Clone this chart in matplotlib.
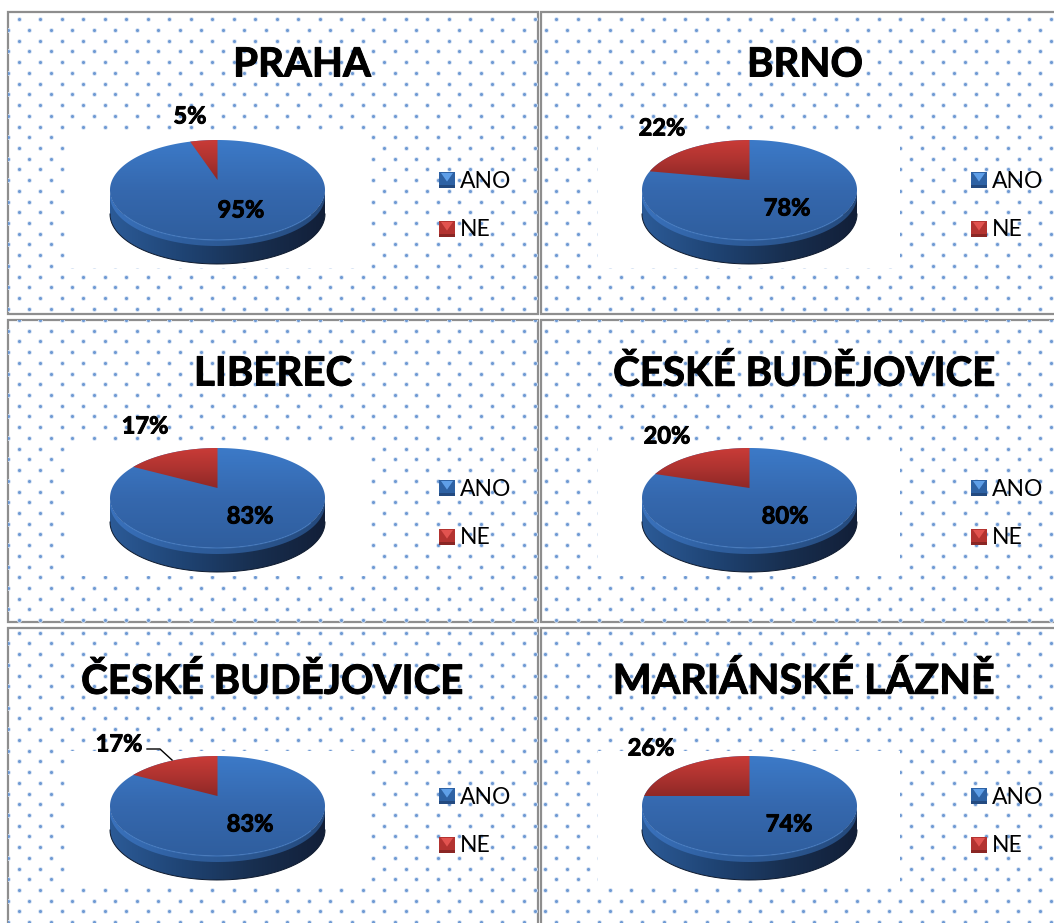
import numpy as np
import matplotlib
matplotlib.use('Agg')
import matplotlib.pyplot as plt
import matplotlib.patheffects as pe
from matplotlib.patches import Polygon, Rectangle

plt.rcParams['font.family'] = ['Lato', 'DejaVu Sans']

# Data
titles = ['PRAHA', 'BRNO', 'LIBEREC', 'ČESKÉ BUDĚJOVICE', 'ČESKÉ BUDĚJOVICE', 'MARIÁNSKÉ LÁZNĚ']
categories = ['ANO', 'NE']
ano_values = [95, 78, 83, 80, 83, 74]
ne_values = [5, 22, 17, 20, 17, 26]

# Layout, in pixels
W, H = 1054, 923
col_left = [8, 541]
col_right = [538, 1060]
row_top = [12, 320, 628]
row_bottom = [314, 622, 930]
panel_dot_x = [18.7, 556.3, 18.7, 556.3, 18.7, 545.3]
row_dot_y = [19.3, 320, 632.7]
title_pos = [(302, 65), (805, 65), (273, 374), (804, 374), (272, 682), (804, 682)]
title_sizes = [29, 29, 29, 29, 29, 29.7]
ano_label_pos = [(241, 210), (787, 208), (250, 516), (785, 516), (250, 824), (789, 824)]
ne_label_pos = [(190, 116), (662, 128), (145, 426), (667, 436), (119, 744), (651, 748)]
RX, RY, DEPTH, K = 107.5, 50, 24, 0.2

heavy = [pe.withStroke(linewidth=0.7, foreground='black')]


def project(t, cx, cy):
    # circle angle (clockwise from the top) to the tilted pie's top face
    w = 1 + K * np.cos(t)
    x = np.sqrt(1 - K ** 2) * np.sin(t) / w
    y = (np.cos(t) + K) / w
    return cx + RX * x, cy - RY * y


def gradient(ax, patch, colors, extent, horizontal=False, zorder=3):
    cmap = matplotlib.colors.LinearSegmentedColormap.from_list('g', colors)
    grad = np.linspace(0, 1, 256)
    grad = grad.reshape(1, -1) if horizontal else grad.reshape(-1, 1)
    im = ax.imshow(grad, cmap=cmap, extent=extent, aspect='auto', origin='upper', zorder=zorder)
    ax.add_patch(patch)
    patch.set_visible(False)
    im.set_clip_path(patch)


def legend_marker(ax, x, y, colors):
    s = 16
    top, bottom, centre = colors
    ax.add_patch(Rectangle((x, y), s, s, color=centre, zorder=4, lw=0))
    ax.add_patch(Polygon([(x + 2, y + 1), (x + s - 2, y + 1), (x + s / 2, y + s * 0.6)], color=top, zorder=5, lw=0))
    ax.add_patch(Rectangle((x, y + s - 3), s, 3, color=bottom, zorder=5, lw=0))


fig = plt.figure(figsize=(W / 100, H / 100), dpi=100)
ax = fig.add_axes([0, 0, 1, 1])

for i in range(6):
    row, col = i // 2, i % 2
    left, right = col_left[col], col_right[col]
    top, bottom = row_top[row], row_bottom[row]
    dx, dy = col * 532, row * 308

    # panel with the dotted fill
    frame = Rectangle((left, top), right - left, bottom - top, fc='white', ec='#8e8e8e', lw=1.6, zorder=1)
    ax.add_patch(frame)
    xs, ys = [], []
    for n, y in enumerate(np.arange(row_dot_y[row], bottom, 10.72)):
        start = panel_dot_x[i] - 21.5 * 2 + (10.7 if n % 2 else 0)
        for x in np.arange(start, right, 21.5):
            xs.append(x)
            ys.append(y)
    halo = ax.scatter(xs, ys, s=12, color='#d8e4f4', lw=0, zorder=1.1)
    dots = ax.scatter(xs, ys, s=5, color='#6f9ad3', lw=0, zorder=1.2)
    halo.set_clip_path(frame)
    dots.set_clip_path(frame)

    # white plot area
    ax.add_patch(Rectangle((66 + dx, 135 + dy), 302, 133, fc='white', lw=0, zorder=1.5))

    cx, cy = 217.5 + dx, 190 + dy

    # side of the pie
    t = np.linspace(np.pi / 2, 3 * np.pi / 2, 200)
    sx = cx + RX * np.sin(t)
    sy = cy - RY * np.cos(t)
    side = Polygon(np.r_[np.c_[sx, sy], np.c_[sx[::-1], sy[::-1] + DEPTH]], closed=True, transform=ax.transData)
    gradient(ax, side, ['#2c5b98', '#1f4474', '#182f50', '#121f38'],
             (cx - RX, cx + RX, cy + 80, cy - 10), horizontal=True, zorder=2)
    ax.plot(sx[::-1], sy[::-1] + DEPTH, color='#0e1a2e', lw=0.7, zorder=2.2)

    # bevel between the side and the top face
    bevel = Polygon(np.r_[np.c_[sx, sy], np.c_[sx[::-1], sy[::-1] + 6]], closed=True, transform=ax.transData)
    gradient(ax, bevel, ['#3a72bd', '#2f5f9f', '#2b568f', '#24497c'],
             (cx - RX, cx + RX, cy + 80, cy - 10), horizontal=True, zorder=2.5)

    # top face, slices come from the values
    total = ano_values[i] + ne_values[i]
    ne_angle = 2 * np.pi * ne_values[i] / total
    t = np.linspace(0, 2 * np.pi, 360)
    px, py = project(t, cx, cy)
    face = Polygon(np.c_[px, py], closed=True, transform=ax.transData)
    gradient(ax, face, ['#3c7ac8', '#3568ae', '#2f5e9e'], (cx - RX, cx + RX, cy + RY, cy - RY), zorder=3)

    t = np.linspace(-ne_angle, 0, 120)
    px, py = project(t, cx, cy)
    apex = (cx, cy - RY * K)
    wedge = Polygon(np.vstack([apex, np.c_[px, py]]), closed=True, transform=ax.transData)
    gradient(ax, wedge, ['#c93b37', '#ae3330', '#8f2826'], (cx - RX, cx + RX, apex[1], cy - RY), zorder=3.5)

    # light rim at the front of the top face
    t = np.linspace(np.pi * 0.72, np.pi * 1.28, 200)
    px, py = project(t, cx, cy)
    ax.plot(px, py, color='#4a82ca', lw=0.9, alpha=0.6, zorder=3.6)

    # texts
    ax.text(*title_pos[i], titles[i], fontsize=title_sizes[i], fontweight='bold', ha='center', va='center',
            color='black', zorder=6, path_effects=heavy)
    ax.text(*ano_label_pos[i], f'{ano_values[i]}%', fontsize=17, fontweight='bold', ha='center', va='center',
            zorder=6, path_effects=heavy)
    ax.text(*ne_label_pos[i], f'{ne_values[i]}%', fontsize=17, fontweight='bold', ha='center', va='center',
            zorder=6, path_effects=heavy)

    # legend
    lx = 439 + dx
    legend_marker(ax, lx, 172 + dy, ('#5f9fe8', '#234a80', '#2e62a4'))
    legend_marker(ax, lx, 221 + dy, ('#e2534f', '#8a2624', '#b33330'))
    ax.text(lx + 21, 181 + dy, categories[0], fontsize=16.5, va='center', ha='left', zorder=6)
    ax.text(lx + 21, 229 + dy, categories[1], fontsize=16.5, va='center', ha='left', zorder=6)

# leader line of the 17 % label in the lower left chart
ax.plot([147, 160, 172], [749, 749, 760], color='black', lw=1.0, zorder=6)

ax.set_xlim(0, W)
ax.set_ylim(H, 0)
ax.axis('off')
fig.savefig('out.png', dpi=100, facecolor='white')
